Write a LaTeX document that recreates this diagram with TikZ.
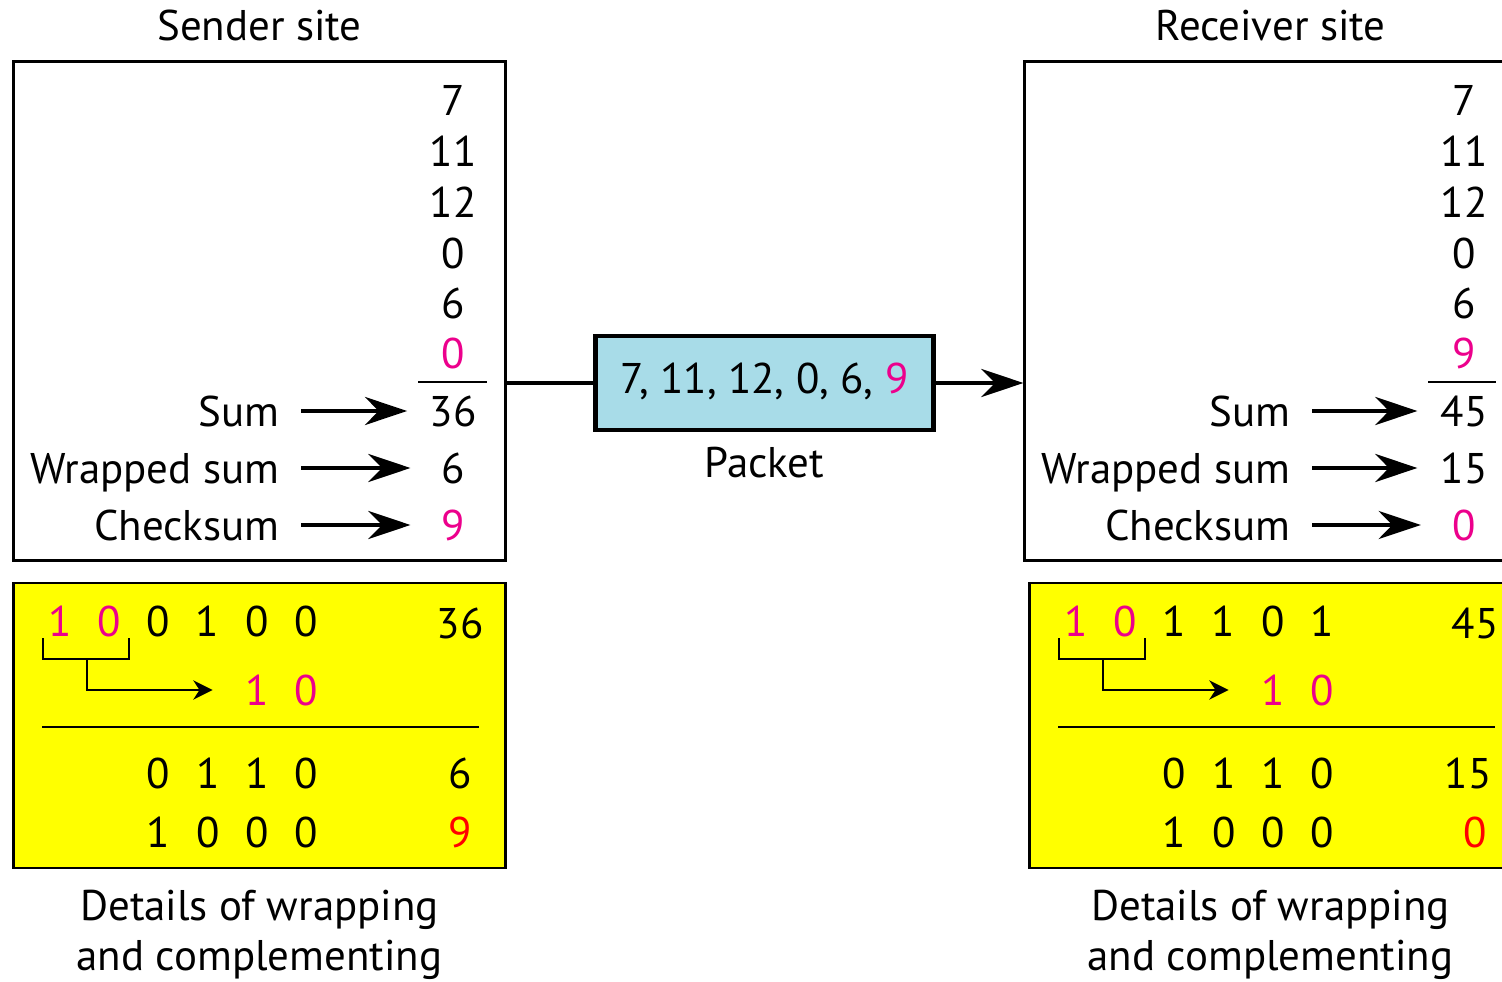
\documentclass[tikz,border=0pt]{standalone}
\usepackage{fontspec}
\setmainfont{PT Sans}
\usetikzlibrary{arrows.meta, positioning}
\definecolor{chkpink}{RGB}{236,0,140}
\definecolor{chkred}{RGB}{255,0,0}
\definecolor{chkyellow}{RGB}{255,255,0}
\definecolor{pktblue}{RGB}{168,220,232}
\newcommand{\bitbox}[1]{\makebox[14pt]{#1}}

\begin{document}
\begin{tikzpicture}[x=0.01cm, y=-0.01cm,
    font=\fontsize{12.2}{14.8}\selectfont,
    txt/.style={inner sep=0pt, text depth=0pt},
    val/.style={txt, minimum width=0.4cm},
    site/.style={draw=black, line width=0.8pt, minimum width=4.91cm, minimum height=4.98cm},
    wrapbox/.style={draw=black, line width=0.8pt, fill=chkyellow, minimum width=4.91cm, minimum height=2.85cm},
    bigarrow/.style={-{Stealth[length=12pt, width=8pt]}, line width=1.1pt},
    smallarrow/.style={-{Stealth[length=5.5pt, width=5.5pt]}, line width=0.6pt},
    thinline/.style={line width=0.6pt},
    caption/.style={txt, align=center, font=\fontsize{12.2}{14.2}\selectfont}]
  \useasboundingbox (0,0) rectangle (1502,982);

  % site boxes
  \node[site] (sbox) at (259.5,311) {};
  \node[site] (rbox) at (1270.5,311) {};
  \node[txt, above=5.5pt of sbox] (stitle) {Sender site};
  \node[txt, above=5.5pt of rbox] (rtitle) {Receiver site};

  % sender column
  \node[val] (s1) at (453,100) {7};
  \node[val] (s2) at (453,151) {11};
  \node[val] (s3) at (453,202) {12};
  \node[val] (s4) at (453,253) {0};
  \node[val] (s5) at (453,303) {6};
  \node[val] (s6) at (453,353) {\textcolor{chkpink}{0}};
  \draw[thinline] (418,382) -- (487,382);
  \node[txt, anchor=east] (ssum) at (280,411) {Sum};
  \node[txt, anchor=east] (swrap) at (280,468) {Wrapped sum};
  \node[txt, anchor=east] (schk) at (280,525) {Checksum};
  \node[val] (ssumv) at (453,411) {36};
  \node[val] (swrapv) at (453,468) {6};
  \node[val] (schkv) at (453,525) {\textcolor{chkpink}{9}};
  \draw[bigarrow, shorten <=6pt, shorten >=6.2pt] (ssum.east) -- (ssumv.west);
  \draw[bigarrow, shorten <=6pt, shorten >=6.2pt] (swrap.east) -- (swrapv.west);
  \draw[bigarrow, shorten <=6pt, shorten >=6.2pt] (schk.east) -- (schkv.west);

  % receiver column
  \node[val] (r1) at (1464,100) {7};
  \node[val] (r2) at (1464,151) {11};
  \node[val] (r3) at (1464,202) {12};
  \node[val] (r4) at (1464,253) {0};
  \node[val] (r5) at (1464,303) {6};
  \node[val] (r6) at (1464,353) {\textcolor{chkpink}{9}};
  \draw[thinline] (1428,382) -- (1496,382);
  \node[txt, anchor=east] (rsum) at (1291,411) {Sum};
  \node[txt, anchor=east] (rwrap) at (1291,468) {Wrapped sum};
  \node[txt, anchor=east] (rchk) at (1291,525) {Checksum};
  \node[val] (rsumv) at (1464,411) {45};
  \node[val] (rwrapv) at (1464,468) {15};
  \node[val] (rchkv) at (1464,525) {\textcolor{chkpink}{0}};
  \draw[bigarrow, shorten <=6pt, shorten >=6.4pt] (rsum.east) -- (rsumv.west);
  \draw[bigarrow, shorten <=6pt, shorten >=6.4pt] (rwrap.east) -- (rwrapv.west);
  \draw[bigarrow, shorten <=6pt, shorten >=6.4pt] (rchk.east) -- (rchkv.west);

  % packet
  \node[draw=black, line width=1.4pt, fill=pktblue, minimum width=3.37cm,
        minimum height=0.94cm, inner sep=0pt, text depth=2.6pt] (pkt) at (764.5,383)
    {7, 11, 12, 0, 6, \textcolor{chkpink}{9}};
  \node[txt, below=4pt of pkt] (pktlabel) {Packet};
  \draw[line width=1.1pt] (pkt.west -| sbox.east) -- (pkt.west);
  \draw[bigarrow] (pkt.east) -- (pkt.east -| rbox.west);

  % sender wrapping details
  \node[wrapbox] (sy) at (259.5,725.5) {};
  \node[txt] (sb1) at (183,621) {\bitbox{\textcolor{chkpink}{1}}\bitbox{\textcolor{chkpink}{0}}\bitbox{0}\bitbox{1}\bitbox{0}\bitbox{0}};
  \node[txt] (sb2) at (281.5,690) {\color{chkpink}\bitbox{1}\bitbox{0}};
  \node[txt] (sb3) at (232.5,773) {\bitbox{0}\bitbox{1}\bitbox{1}\bitbox{0}};
  \node[txt] (sb4) at (232.5,832) {\bitbox{1}\bitbox{0}\bitbox{0}\bitbox{0}};
  \node[txt] (sv1) at (460,623) {36};
  \node[txt] (sv3) at (460,773) {6};
  \node[txt] (sv4) at (460,832) {\textcolor{chkred}{9}};
  \draw[thinline] (43,638) |- (129,659) -- (129,638);
  \coordinate (sbr) at (87,659);
  \draw[smallarrow, shorten >=5.4pt] (sbr) |- (sb2.west);
  \draw[thinline] (42,727) -- (479,727);
  \node[caption, below=5.6pt of sy] (scap) {Details of wrapping\\and complementing};

  % receiver wrapping details
  \node[wrapbox] (ry) at (1275.5,725.5) {};
  \node[txt] (rb1) at (1199,621) {\bitbox{\textcolor{chkpink}{1}}\bitbox{\textcolor{chkpink}{0}}\bitbox{1}\bitbox{1}\bitbox{0}\bitbox{1}};
  \node[txt] (rb2) at (1297.5,690) {\color{chkpink}\bitbox{1}\bitbox{0}};
  \node[txt] (rb3) at (1248.5,773) {\bitbox{0}\bitbox{1}\bitbox{1}\bitbox{0}};
  \node[txt] (rb4) at (1248.5,832) {\bitbox{1}\bitbox{0}\bitbox{0}\bitbox{0}};
  \node[txt] (rv1) at (1475,623) {45};
  \node[txt] (rv3) at (1468,773) {15};
  \node[txt] (rv4) at (1475,832) {\textcolor{chkred}{0}};
  \draw[thinline] (1059,638) |- (1145,659) -- (1145,638);
  \coordinate (rbr) at (1103,659);
  \draw[smallarrow, shorten >=5.4pt] (rbr) |- (rb2.west);
  \draw[thinline] (1058,727) -- (1495,727);
  \coordinate (rcapref) at (ry.south -| rbox.south);
  \node[caption, below=5.6pt of rcapref] (rcap) {Details of wrapping\\and complementing};
\end{tikzpicture}
\end{document}
